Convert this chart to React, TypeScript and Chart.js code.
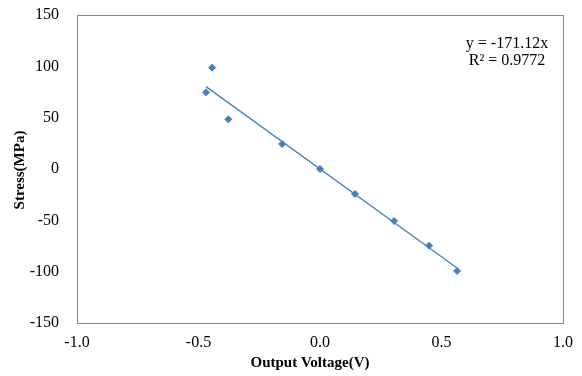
import React, { useEffect, useRef } from "react";
import { Chart, registerables } from "chart.js";

Chart.register(...registerables);

const voltage = [-0.469, -0.444, -0.377, -0.156, 0.0, 0.144, 0.305, 0.449, 0.564];
const stress = [74.7, 98.7, 48.4, 24.3, 0.0, -24.3, -50.6, -74.7, -99.3];
const trendSlope = -171.12;
const equationLines = ["y = -171.12x", "R² = 0.9772"];
const xTitle = "Output Voltage(V)";
const yTitle = "Stress(MPa)";

const BLUE = "#4A7EBB";
const SERIF = "'Liberation Serif', 'Times New Roman', serif";

export default function App() {
  const ref = useRef<HTMLCanvasElement | null>(null);

  useEffect(() => {
    document.body.style.margin = "0";
    const canvas = ref.current;
    if (!canvas) return;

    const points = voltage.map((x, i) => ({ x, y: stress[i] }));
    const xmin = Math.min(...voltage);
    const xmax = Math.max(...voltage);
    const trend = [
      { x: xmin, y: trendSlope * xmin },
      { x: xmax, y: trendSlope * xmax },
    ];

    const decor = {
      id: "decor",
      afterDraw(chart: any) {
        const { ctx, chartArea } = chart;
        ctx.save();
        ctx.strokeStyle = "#868686";
        ctx.lineWidth = 1;
        ctx.strokeRect(
          Math.round(chartArea.left) + 0.5,
          Math.round(chartArea.top) + 0.5,
          Math.round(chartArea.right - chartArea.left),
          Math.round(chartArea.bottom - chartArea.top)
        );
        ctx.fillStyle = "#000";
        ctx.textAlign = "center";
        ctx.textBaseline = "middle";
        ctx.font = `16px ${SERIF}`;
        ctx.fillText(equationLines[0], 507, 44);
        ctx.fillText(equationLines[1], 507, 61);
        ctx.font = `bold 15px ${SERIF}`;
        ctx.fillText(xTitle, 310, 363);
        ctx.translate(20, 170);
        ctx.rotate(-Math.PI / 2);
        ctx.fillText(yTitle, 0, 0);
        ctx.restore();
      },
    };

    const chart = new Chart(canvas, {
      type: "scatter",
      data: {
        datasets: [
          {
            label: "Stress",
            data: points,
            pointStyle: "rectRot",
            pointRadius: 3.5,
            pointBackgroundColor: BLUE,
            pointBorderColor: BLUE,
            pointBorderWidth: 1,
            showLine: false,
            order: 2,
          },
          {
            label: "Linear",
            data: trend,
            type: "line",
            showLine: true,
            pointRadius: 0,
            borderColor: BLUE,
            borderWidth: 1.3,
            fill: false,
            order: 1,
          } as any,
        ],
      },
      options: {
        responsive: false,
        animation: false,
        events: [],
        layout: { padding: { top: 15, right: 19, left: 0, bottom: 0 } },
        plugins: {
          legend: { display: false },
          tooltip: { enabled: false },
        },
        scales: {
          x: {
            type: "linear",
            min: -1,
            max: 1,
            grid: { display: false, drawTicks: false },
            border: { display: false },
            ticks: {
              stepSize: 0.5,
              padding: 10,
              color: "#000",
              font: { family: SERIF, size: 16 },
              callback: (v: any) => Number(v).toFixed(1),
            },
            afterFit: (s: any) => {
              s.height = 53;
              s.paddingLeft = 0;
              s.paddingRight = 0;
            },
          },
          y: {
            type: "linear",
            min: -150,
            max: 150,
            grid: { display: false, drawTicks: false },
            border: { display: false },
            ticks: {
              stepSize: 50,
              padding: 18,
              color: "#000",
              font: { family: SERIF, size: 16 },
            },
            afterFit: (s: any) => {
              s.width = 77;
              s.paddingTop = 0;
              s.paddingBottom = 0;
            },
          },
        },
      },
      plugins: [decor],
    });

    return () => chart.destroy();
  }, []);

  return (
    <div style={{ width: 582, height: 376 }}>
      <canvas ref={ref} width={582} height={376} />
    </div>
  );
}
